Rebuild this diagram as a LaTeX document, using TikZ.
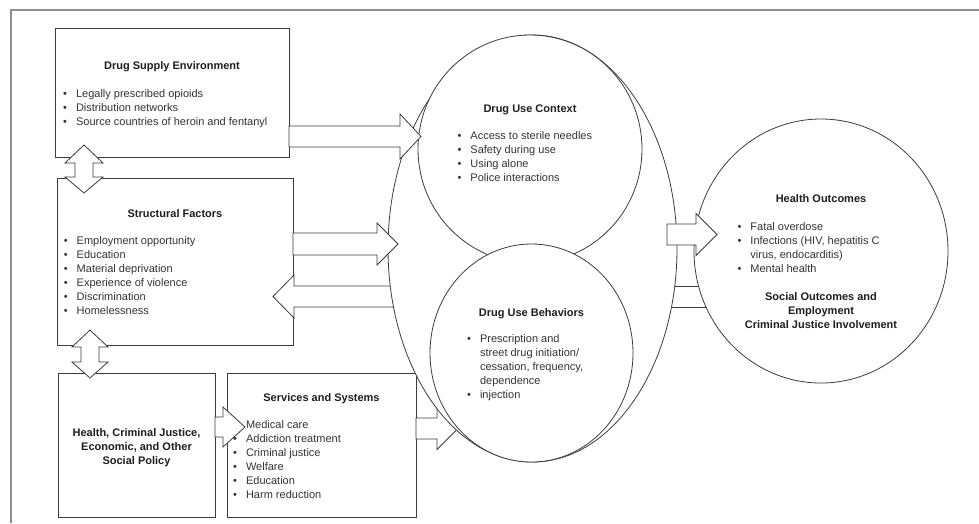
\documentclass[tikz,border=0pt]{standalone}
\usepackage{fontspec}
\setmainfont{Liberation Sans}
\usetikzlibrary{shapes.geometric}
\definecolor{linec}{HTML}{3C3C3C}
\definecolor{framec}{HTML}{8E8E8E}
\definecolor{txt}{HTML}{333333}
\definecolor{ttl}{HTML}{1E1E1E}
\tikzset{
  boxshape/.style={draw=linec, line width=0.8pt, fill=white, inner sep=0pt, rectangle},
  roundshape/.style={draw=linec, line width=0.8pt, fill=white, inner sep=0pt, ellipse},
  barrow/.style={draw=linec, line width=0.8pt, fill=white, line join=miter},
  ttlnode/.style={inner sep=0pt, anchor=base, font=\fontsize{11}{14}\selectfont\bfseries, text=ttl},
  listnode/.style={inner sep=0pt, anchor=base west, font=\fontsize{11}{14}\selectfont, text=txt},
}
\newcommand\blist[1]{\begin{tabular}[t]{@{}l@{\hspace{9pt}}l@{}}#1\end{tabular}}
\newcommand\clines[1]{\begin{tabular}[t]{@{}c@{}}#1\end{tabular}}
% horizontal block arrow: start x, head base x, tip x, centre y, shaft half, head half
\newcommand\harrow[6]{\draw[barrow] (#1,#4-#5) -- (#2,#4-#5) -- (#2,#4-#6) -- (#3,#4) -- (#2,#4+#6) -- (#2,#4+#5) -- (#1,#4+#5) -- cycle;}
% vertical double block arrow: centre x, top tip, top base, bottom base, bottom tip, shaft half, head half
\newcommand\vdarrow[7]{\draw[barrow] (#1,#2) -- (#1+#7,#3) -- (#1+#6,#3) -- (#1+#6,#4) -- (#1+#7,#4) -- (#1,#5) -- (#1-#7,#4) -- (#1-#6,#4) -- (#1-#6,#3) -- (#1-#7,#3) -- cycle;}
\begin{document}
\begin{tikzpicture}[x=1pt,y=-1pt]
\useasboundingbox[fill=white] (0,0) rectangle (979,523);
\draw[framec, line width=1.6pt] (11,523) -- (11,10) -- (979,10);

% boxes
\node[boxshape, minimum width=234pt, minimum height=129pt] (dse) at (172,92.5) {};
\node[boxshape, minimum width=236pt, minimum height=167pt] (sf) at (175,261.5) {};
\node[boxshape, minimum width=157pt, minimum height=144pt] (pol) at (136.5,445) {};
\node[boxshape, minimum width=189pt, minimum height=144pt] (srv) at (321.5,445) {};

% arrows lying under the round shapes
\harrow{395}{294}{273}{296.5}{10.5}{21.5}
\harrow{416}{437}{458}{428.5}{10.5}{21}
\draw[barrow] (655,286) rectangle (725,307);

% round shapes
\node[roundshape, minimum width=289pt, minimum height=427pt] (drug) at (532.5,248.5) {};
\node[roundshape, minimum width=224pt, minimum height=228pt] (duc) at (530,149) {};
\node[roundshape, minimum width=203pt, minimum height=218pt] (dub) at (531.5,353) {};
\node[roundshape, minimum width=254pt, minimum height=264pt] (ho) at (821,251) {};

% texts
\node[ttlnode] (dset) at (172,69) {Drug Supply Environment};
\node[listnode] (dsel) at (63,97.5) {\blist{\textbullet & Legally prescribed opioids\\ \textbullet & Distribution networks\\ \textbullet & Source countries of heroin and fentanyl}};

\node[ttlnode] (sft) at (175,217) {Structural Factors};
\node[listnode] (sfl) at (63.7,244.5) {\blist{\textbullet & Employment opportunity\\ \textbullet & Education\\ \textbullet & Material deprivation\\ \textbullet & Experience of violence\\ \textbullet & Discrimination\\ \textbullet & Homelessness}};

\node[ttlnode] (polt) at (136.5,436) {\clines{Health, Criminal Justice,\\ Economic, and Other\\ Social Policy}};

\node[ttlnode] (srvt) at (321.5,401) {Services and Systems};
\node[listnode] (srvl) at (233,428) {\blist{\textbullet & Medical care\\ \textbullet & Addiction treatment\\ \textbullet & Criminal justice\\ \textbullet & Welfare\\ \textbullet & Education\\ \textbullet & Harm reduction}};

\node[ttlnode] (duct) at (530,112) {Drug Use Context};
\node[listnode] (ducl) at (457.4,139.5) {\blist{\textbullet & Access to sterile needles\\ \textbullet & Safety during use\\ \textbullet & Using alone\\ \textbullet & Police interactions}};

\node[ttlnode] (dubt) at (531.5,316) {Drug Use Behaviors};
\node[listnode] (dubl) at (467,342.5) {\blist{\textbullet & Prescription and\\ & street drug initiation/\\ & cessation, frequency,\\ & dependence\\ \textbullet & injection}};

\node[ttlnode] (hot) at (821,202) {Health Outcomes};
\node[listnode] (hol) at (737.4,230.5) {\blist{\textbullet & Fatal overdose\\ \textbullet & Infections (HIV, hepatitis C\\ & virus, endocarditis)\\ \textbullet & Mental health}};
\node[ttlnode] (sot) at (821,300) {\clines{Social Outcomes and\\ Employment\\ Criminal Justice Involvement}};

% arrows lying on top
\harrow{289}{400}{421}{136.5}{10.5}{22.5}
\harrow{293}{377}{398}{244}{11}{21}
\harrow{215}{223}{245}{427}{10}{20}
\harrow{667}{696}{717}{234.5}{10.5}{21}
\vdarrow{84}{145}{163}{177}{193}{9}{19}
\vdarrow{90}{330}{347}{362}{378}{9}{18}
\end{tikzpicture}
\end{document}
